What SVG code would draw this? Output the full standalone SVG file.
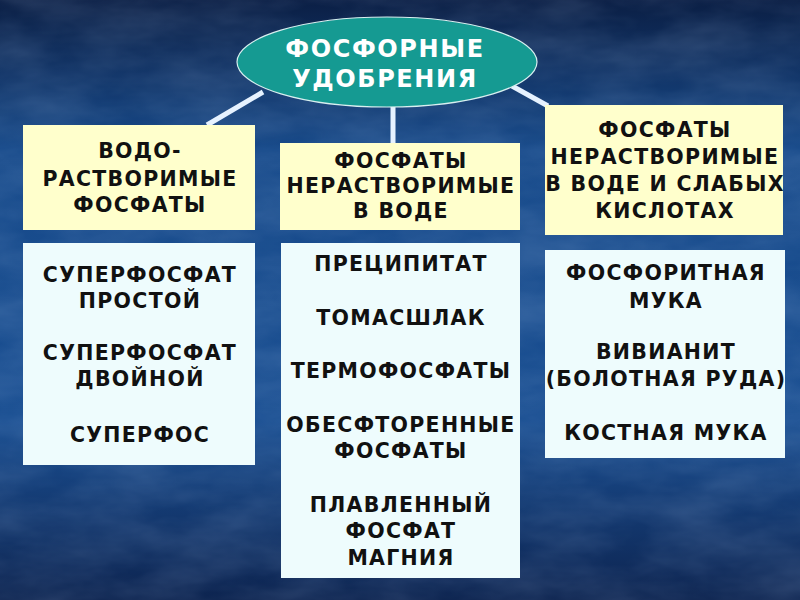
<svg xmlns="http://www.w3.org/2000/svg" width="800" height="600" viewBox="0 0 800 600">
<defs>
<linearGradient id="bg" x1="0" y1="0" x2="0" y2="1">
<stop offset="0" stop-color="#0b1f45"/>
<stop offset="0.25" stop-color="#174a8a"/>
<stop offset="0.7" stop-color="#1a4f92"/>
<stop offset="1" stop-color="#0d2450"/>
</linearGradient>
<filter id="marble" x="0" y="0" width="100%" height="100%">
<feTurbulence type="fractalNoise" baseFrequency="0.012 0.03" numOctaves="4" seed="7"/>
<feColorMatrix type="matrix" values="0 0 0 0 0.6  0 0 0 0 0.75  0 0 0 0 1  0 0 0 0.35 -0.08"/>
</filter>
<style>
.t{font-family:"DejaVu Sans","Noto Sans",sans-serif;font-weight:bold;font-size:20.5px;letter-spacing:1.3px;fill:#111;text-anchor:middle}
.h{font-family:"DejaVu Sans","Noto Sans",sans-serif;font-weight:bold;font-size:24px;letter-spacing:1.6px;fill:#fff;text-anchor:middle}
.yel{fill:#ffffcc}
.cy{fill:#eefcfd}
.c{stroke:#e6f2ff;stroke-width:5;fill:none}
</style>
</defs>
<rect width="800" height="600" fill="url(#bg)"/>
<rect width="800" height="600" filter="url(#marble)" opacity="0.6"/>

<g id="connectors">
<line class="c" x1="263" y1="92" x2="207" y2="125"/>
<line class="c" x1="393" y1="106" x2="393" y2="143"/>
<line class="c" x1="512" y1="86" x2="548" y2="106"/>
</g>

<g id="root">
<ellipse cx="387" cy="62" rx="150" ry="45" fill="#159a92" stroke="#d8f0f0" stroke-width="1.2"/>
<text class="h" x="385" y="57">ФОСФОРНЫЕ</text>
<text class="h" x="385" y="87">УДОБРЕНИЯ</text>
</g>

<g id="cat1">
<rect class="yel" x="23" y="125" width="232" height="105"/>
<text class="t" x="140" y="158">ВОДО-</text>
<text class="t" x="140" y="186">РАСТВОРИМЫЕ</text>
<text class="t" x="140" y="212">ФОСФАТЫ</text>
</g>

<g id="cat2">
<rect class="yel" x="280" y="143" width="240" height="87"/>
<text class="t" x="401" y="168">ФОСФАТЫ</text>
<text class="t" x="401" y="193">НЕРАСТВОРИМЫЕ</text>
<text class="t" x="401" y="218">В ВОДЕ</text>
</g>

<g id="cat3">
<rect class="yel" x="545" y="105" width="238" height="130"/>
<text class="t" x="665" y="137">ФОСФАТЫ</text>
<text class="t" x="665" y="164">НЕРАСТВОРИМЫЕ</text>
<text class="t" x="665" y="191">В ВОДЕ И СЛАБЫХ</text>
<text class="t" x="665" y="218">КИСЛОТАХ</text>
</g>

<g id="list1">
<rect class="cy" x="23" y="243" width="232" height="222"/>
<text class="t" x="140" y="282">СУПЕРФОСФАТ</text>
<text class="t" x="140" y="308">ПРОСТОЙ</text>
<text class="t" x="140" y="360">СУПЕРФОСФАТ</text>
<text class="t" x="140" y="386">ДВОЙНОЙ</text>
<text class="t" x="140" y="442">СУПЕРФОС</text>
</g>

<g id="list2">
<rect class="cy" x="281" y="243" width="239" height="335"/>
<text class="t" x="401" y="271">ПРЕЦИПИТАТ</text>
<text class="t" x="401" y="325">ТОМАСШЛАК</text>
<text class="t" x="401" y="378">ТЕРМОФОСФАТЫ</text>
<text class="t" x="401" y="432">ОБЕСФТОРЕННЫЕ</text>
<text class="t" x="401" y="458">ФОСФАТЫ</text>
<text class="t" x="401" y="512">ПЛАВЛЕННЫЙ</text>
<text class="t" x="401" y="538">ФОСФАТ</text>
<text class="t" x="401" y="565">МАГНИЯ</text>
</g>

<g id="list3">
<rect class="cy" x="545" y="250" width="240" height="208"/>
<text class="t" x="666" y="280">ФОСФОРИТНАЯ</text>
<text class="t" x="666" y="308">МУКА</text>
<text class="t" x="666" y="359">ВИВИАНИТ</text>
<text class="t" x="666" y="386">(БОЛОТНАЯ РУДА)</text>
<text class="t" x="666" y="440">КОСТНАЯ МУКА</text>
</g>
</svg>
